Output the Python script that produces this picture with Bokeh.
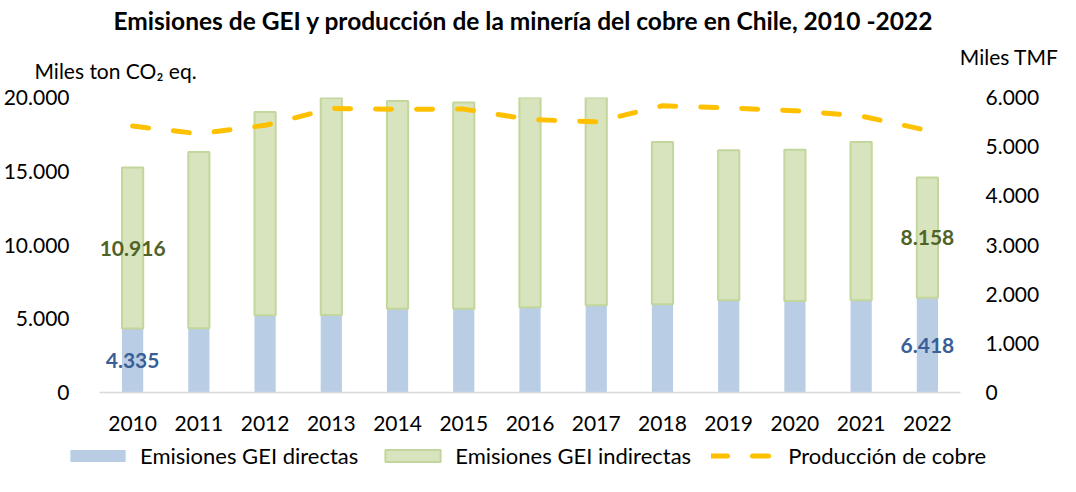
from bokeh.plotting import figure
from bokeh.layouts import column
from bokeh.models import (FactorRange, Range1d, LinearAxis, FixedTicker, Title,
                          Legend, LegendItem, ColumnDataSource)
from bokeh.core.properties import value
from bokeh.embed import file_html
from bokeh.resources import INLINE

years = ["2010", "2011", "2012", "2013", "2014", "2015", "2016",
         "2017", "2018", "2019", "2020", "2021", "2022"]
directas = [4335, 4350, 5240, 5250, 5670, 5670, 5780, 5920, 5990, 6250, 6210, 6260, 6418]
indirectas = [10916, 11960, 13780, 14720, 14100, 13990, 14350, 14200, 11000, 10180, 10240, 10730, 8158]
produccion = [5419, 5263, 5434, 5776, 5761, 5764, 5553, 5504, 5832, 5787, 5733, 5624, 5330]
left_ticks = [0, 5000, 10000, 15000, 20000]
right_ticks = [0, 1000, 2000, 3000, 4000, 5000, 6000]
series_names = ["Emisiones GEI directas", "Emisiones GEI indirectas", "Producción de cobre"]

FONT = "Lato"
W = 1060
H_MAIN, H_LEG = 440, 36

C_DIR, C_IND, C_IND_LINE, C_PROD = "#B9CDE5", "#D7E4BD", "#C3D69B", "#FFC000"


def fmt(v):
    return f"{v:,}".replace(",", ".")


totals = [d + i for d, i in zip(directas, indirectas)]
src = ColumnDataSource(dict(x=years, d=directas, i=indirectas, t=totals, prod=produccion))


def add_series(fig):
    a = fig.vbar(x="x", top="d", bottom=0, width=0.32, source=src,
                 fill_color=C_DIR, line_color=None)
    b = fig.vbar(x="x", top="t", bottom="d", width=0.32, source=src,
                 fill_color=C_IND, line_color=C_IND_LINE, line_width=2)
    c = fig.line(x="x", y="prod", y_range_name="prod", source=src,
                 line_color=C_PROD, line_width=5, line_dash="16 25", line_cap="round")
    return a, b, c


def base_figure(height, **kw):
    f = figure(x_range=FactorRange(factors=years, range_padding=0),
               y_range=Range1d(0, 20000), width=W, height=height,
               output_backend="svg", toolbar_location=None, **kw)
    f.extra_y_ranges = {"prod": Range1d(0, 6000)}
    f.outline_line_color = None
    f.grid.grid_line_color = None
    f.background_fill_color = "white"
    f.border_fill_color = "white"
    f.frame_align = False
    return f


p = base_figure(H_MAIN, min_border_left=98, min_border_right=100,
                min_border_top=97, min_border_bottom=48)
add_series(p)

# axes
p.xaxis.axis_line_color = "#D9D9D9"
p.xaxis.axis_line_width = 1.5
p.xaxis.major_tick_line_color = None
p.xaxis.minor_tick_line_color = None
p.xaxis.major_label_text_font = FONT
p.xaxis.major_label_text_font_size = "21px"
p.xaxis.major_label_text_color = "black"
p.xaxis.major_label_standoff = 17

p.yaxis.ticker = FixedTicker(ticks=left_ticks)
p.yaxis.major_label_overrides = {t: fmt(t) for t in left_ticks}
p.yaxis.axis_line_color = None
p.yaxis.major_tick_line_color = None
p.yaxis.minor_tick_line_color = None
p.yaxis.major_label_text_font = FONT
p.yaxis.major_label_text_font_size = "21px"
p.yaxis.major_label_text_color = "black"
p.yaxis.major_label_standoff = 24

ra = LinearAxis(y_range_name="prod", ticker=FixedTicker(ticks=right_ticks))
ra.major_label_overrides = {t: fmt(t) for t in right_ticks}
ra.axis_line_color = None
ra.major_tick_line_color = None
ra.minor_tick_line_color = None
ra.major_label_text_font = FONT
ra.major_label_text_font_size = "21px"
ra.major_label_text_color = "black"
ra.major_label_standoff = 19
p.add_layout(ra, "right")

# data labels (first and last year)
lab_src = ColumnDataSource(dict(
    x=[years[0], years[-1]],
    yd=[directas[0] / 2, directas[-1] / 2],
    yi=[directas[0] + indirectas[0] / 2, directas[-1] + indirectas[-1] / 2],
    td=[fmt(directas[0]), fmt(directas[-1])],
    ti=[fmt(indirectas[0]), fmt(indirectas[-1])],
))
p.text(x="x", y="yd", text="td", source=lab_src, text_font=value(FONT),
       text_font_style="bold", text_font_size="21px", text_color="#3A5E96",
       text_align="center", text_baseline="middle")
p.text(x="x", y="yi", text="ti", source=lab_src, text_font=value(FONT),
       text_font_style="bold", text_font_size="21px", text_color="#4F6228",
       text_align="center", text_baseline="middle")

# titles stacked in the top panel (first added = nearest to the frame)
spacer = Title(text=" ", text_font=FONT, text_font_size="20px", standoff=0)
t_ton = Title(text="Miles ton CO₂ eq.", align="left", offset=-65, vertical_align="top",
              standoff=-27, text_font=FONT, text_font_size="21px",
              text_font_style="normal", text_color="black")
t_tmf = Title(text="Miles TMF", align="right", offset=-98, vertical_align="bottom",
              standoff=4.4, text_font=FONT, text_font_size="21px",
              text_font_style="normal", text_color="black")
t_main = Title(text="Emisiones de GEI y producción de la minería del cobre en Chile, 2010 -2022",
               align="left", offset=14, vertical_align="top", standoff=8,
               text_font=FONT, text_font_size="24.5px", text_font_style="bold",
               text_color="black")
p.add_layout(spacer, "above")
p.add_layout(t_ton, "above")
p.add_layout(t_tmf, "above")
p.add_layout(t_main, "above")

# legend strip below the chart: the same series, hidden, so only the legend shows
lg = base_figure(H_LEG, x_axis_location=None, y_axis_location=None,
                 min_border_left=0, min_border_right=0, min_border_top=0,
                 min_border_bottom=0)
g_dir, g_ind, g_prod = add_series(lg)
for r in (g_dir, g_ind, g_prod):
    r.visible = False
legend = Legend(items=[
    LegendItem(label=series_names[0], renderers=[g_dir]),
    LegendItem(label=series_names[1], renderers=[g_ind]),
    LegendItem(label=series_names[2], renderers=[g_prod]),
], orientation="horizontal", location=(63, 7), click_policy="none",
    glyph_width=69, glyph_height=15, label_standoff=8, spacing=20,
    padding=0, margin=0, border_line_color=None, background_fill_alpha=0,
    inactive_fill_alpha=0,
    label_text_font=FONT, label_text_font_size="22px", label_text_color="black",
    label_height=22)
lg.add_layout(legend, "center")

layout = column(p, lg, spacing=0)
open("out.html", "w").write(file_html(layout, INLINE))
